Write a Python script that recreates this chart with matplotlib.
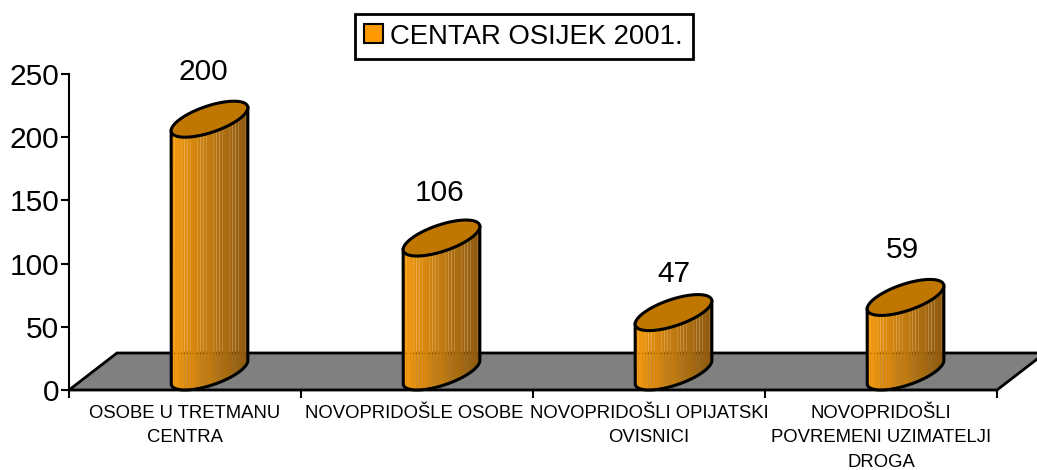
#!/usr/bin/env python3
import matplotlib
matplotlib.use('Agg')
import matplotlib.pyplot as plt
from matplotlib.patches import Patch, Polygon
from matplotlib.transforms import ScaledTranslation
import numpy as np

categories = ['OSOBE U TRETMANU\nCENTRA', 'NOVOPRIDOŠLE OSOBE',
              'NOVOPRIDOŠLI OPIJATSKI\nOVISNICI',
              'NOVOPRIDOŠLI\nPOVREMENI UZIMATELJI\nDROGA']
values = [200, 106, 47, 59]
y_ticks = [0, 50, 100, 150, 200, 250]
series_name = 'CENTAR OSIJEK 2001.'

plt.rcParams['font.family'] = ['Liberation Sans', 'DejaVu Sans']

W, H = 1037, 470
fig = plt.figure(figsize=(W / 100, H / 100), dpi=100)
ax = fig.add_axes([69 / W, 1 - 390 / H, 928 / W, 316 / H])
ax.set_xlim(0, 4)
ax.set_ylim(0, 250)

# pixel -> data sizes
px_x = 4 / 928
px_y = 250 / 316
depth_x = 48 * px_x
depth_y = 37 * px_y

# floor
floor = Polygon([(0, 0), (depth_x, depth_y), (4 + depth_x, depth_y), (4, 0)],
                closed=True, facecolor='#808080', edgecolor='black',
                linewidth=2, clip_on=False, zorder=1)
ax.add_patch(floor)

half_w = 29.5 * px_x
shear_x = 24.5 * px_x
half_d = 18 * px_y


def ellipse(cx, cy, t):
    return (cx + half_w * np.cos(t) + shear_x * np.sin(t),
            cy + half_d * np.sin(t))


def band_colour(f):
    light = np.array([0.95, 0.60, 0.06])
    dark = np.array([0.55, 0.35, 0.06])
    return light + (dark - light) * f


t = np.linspace(0, 2 * np.pi, 721)
label_offsets = [(-6, 65), (-2, 63), (0, 57), (-3, 65)]

for i, val in enumerate(values):
    cx = i + 0.5 + shear_x
    base_y = half_d
    top_y = val + half_d

    bx, by = ellipse(cx, base_y, t)
    left = bx.min()
    right = bx.max()

    # lower edge of the bottom ellipse and upper limit from the top one
    i_l = np.argmin(bx)
    i_r = np.argmax(bx)
    tt = np.linspace(t[i_l], t[i_r] + 2 * np.pi if t[i_r] < t[i_l] else t[i_r], 300)
    lx, ly = ellipse(cx, base_y, tt)
    ux, uy = ellipse(cx, top_y, tt)

    # shaded side, drawn in narrow bands
    edges = np.linspace(left, right, 25)
    for j in range(24):
        xs = np.linspace(edges[j], edges[j + 1], 6)
        y0 = np.interp(xs, lx, ly)
        y1 = np.interp(xs, ux, uy)
        ax.fill_between(xs, y0, y1, color=band_colour(j / 23), linewidth=0,
                        clip_on=False, zorder=3)

    # faint floor line seen through the cylinder
    ax.plot([left, right], [depth_y, depth_y], color='#7a4a05', lw=0.8,
            alpha=0.35, ls=':', clip_on=False, zorder=4)

    # outline of the side
    ax.plot(np.r_[ux[0], lx, ux[-1]], np.r_[uy[0], ly, uy[-1]], color='black',
            lw=2.2, clip_on=False, zorder=5)

    # top
    ex, ey = ellipse(cx, top_y, t)
    ax.fill(ex, ey, facecolor='#BF7700', edgecolor='black', linewidth=2.2,
            clip_on=False, zorder=6)

    ax.annotate(str(val), xy=(cx, val), xytext=label_offsets[i],
                textcoords='offset pixels', ha='center', va='center',
                fontsize=21.5, color='black', zorder=7)

for side in ['top', 'right']:
    ax.spines[side].set_visible(False)
for side in ['left', 'bottom']:
    ax.spines[side].set_linewidth(1.5)
    ax.spines[side].set_zorder(2)

ax.set_yticks(y_ticks)
ax.set_xticks(range(5))
ax.set_xticklabels([])
ax.tick_params(axis='both', which='major', width=1.5, length=6)
ax.tick_params(axis='y', labelsize=21.5, pad=1)

ax.set_xticks(np.arange(4) + 0.5, minor=True)
ax.set_xticklabels(categories, minor=True, fontsize=13.3, linespacing=1.55,
                   ha='center', va='top')
ax.tick_params(axis='x', which='minor', length=0, pad=11)

# the second label sits a little left of its slot in the original
shift = ScaledTranslation(-3 / 100, 0, fig.dpi_scale_trans)
lab = ax.get_xticklabels(minor=True)[1]
lab.set_transform(lab.get_transform() + shift)

leg = fig.legend(handles=[Patch(facecolor='#FF9900', edgecolor='black', linewidth=1.5)],
                 labels=[series_name], loc='center',
                 bbox_to_anchor=(523.5 / W, 1 - 36.5 / H), fontsize=19.8,
                 frameon=True, fancybox=False, edgecolor='black', framealpha=1,
                 handlelength=0.68, handleheight=0.68, handletextpad=0.27,
                 borderpad=0.35, borderaxespad=0)
leg.get_frame().set_linewidth(2)

fig.savefig('out.png', dpi=100)
